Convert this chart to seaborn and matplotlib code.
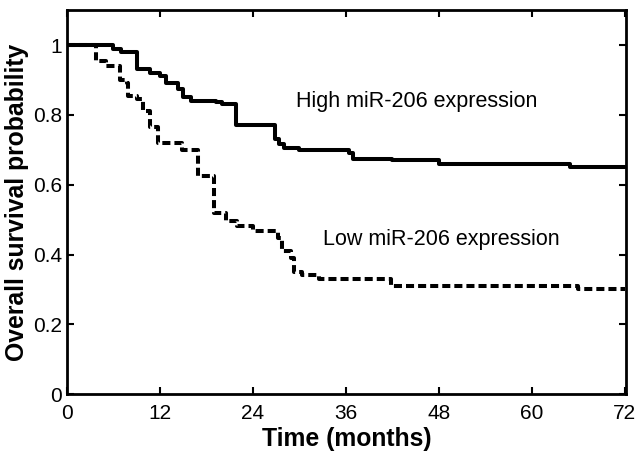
import pandas as pd
import matplotlib.pyplot as plt
import seaborn as sns

# Kaplan-Meier step curves
high_t = [0, 5.9, 7, 9.1, 10.7, 12, 12.8, 14.3, 15, 16, 19.3, 20, 21.8, 26.9, 27.4, 28, 30,
          36.4, 37, 42, 48, 65, 72]
high_s = [1.0, 0.99, 0.98, 0.93, 0.92, 0.91, 0.89, 0.875, 0.85, 0.84, 0.837, 0.83, 0.77,
          0.73, 0.716, 0.705, 0.70, 0.69, 0.675, 0.67, 0.66, 0.65, 0.65]
low_t = [0, 3.8, 5.1, 6.8, 7.7, 7.9, 9, 9.8, 10.7, 11.8, 14.8, 16.9, 19, 20.5, 22, 24, 27.2,
         27.8, 28.9, 29.3, 30.4, 32.6, 41.8, 66, 72]
low_s = [1.0, 0.955, 0.94, 0.90, 0.89, 0.855, 0.845, 0.81, 0.765, 0.72, 0.70, 0.626, 0.52,
         0.497, 0.483, 0.466, 0.446, 0.41, 0.39, 0.35, 0.34, 0.33, 0.31, 0.30, 0.30]
x_ticks = [0, 12, 24, 36, 48, 60, 72]
y_ticks = [0, 0.2, 0.4, 0.6, 0.8, 1.0]
y_tick_labels = ["0", "0.2", "0.4", "0.6", "0.8", "1"]

high = pd.DataFrame({"time": high_t, "surv": high_s})
low = pd.DataFrame({"time": low_t, "surv": low_s})

sns.set_style("ticks")
plt.rcParams["font.family"] = ["Liberation Sans Narrow", "Liberation Sans", "DejaVu Sans"]
plt.rcParams["text.color"] = "black"
plt.rcParams["axes.labelcolor"] = "black"
plt.rcParams["xtick.color"] = "black"
plt.rcParams["ytick.color"] = "black"
plt.rcParams["axes.edgecolor"] = "black"

fig = plt.figure(figsize=(6.37, 4.61), dpi=100)
ax = fig.add_axes([0.105, 0.145, 0.878, 0.833])

sns.lineplot(data=low, x="time", y="surv", drawstyle="steps-post", color="black",
             linewidth=2.9, linestyle=(0, (2, 1)), ax=ax)
sns.lineplot(data=high, x="time", y="surv", drawstyle="steps-post", color="black",
             linewidth=2.9, ax=ax)

ax.text(29.6, 0.837, "High miR-206 expression", fontsize=15.5, va="center",
        family=["Liberation Sans", "DejaVu Sans"])
ax.text(33, 0.443, "Low miR-206 expression", fontsize=15.5, va="center",
        family=["Liberation Sans", "DejaVu Sans"])

ax.set_xlim(0, 72.2)
ax.set_ylim(0, 1.1)
ax.set_xticks(x_ticks)
ax.set_yticks(y_ticks)
ax.set_yticklabels(y_tick_labels)
ax.tick_params(direction="in", top=True, right=True, labelsize=15, length=5, width=1.5)
ax.tick_params(axis="x", pad=7)
for s in ax.spines.values():
    s.set_linewidth(2)
    s.set_visible(True)

ax.set_xlabel("Time (months)", fontsize=17.8, fontweight="bold",
              family=["Liberation Sans", "DejaVu Sans"], labelpad=3)
ax.set_ylabel("Overall survival probability", fontsize=17.8, fontweight="bold",
              family=["Liberation Sans", "DejaVu Sans"], labelpad=3)

fig.savefig("out.png", dpi=100)
plt.close()
